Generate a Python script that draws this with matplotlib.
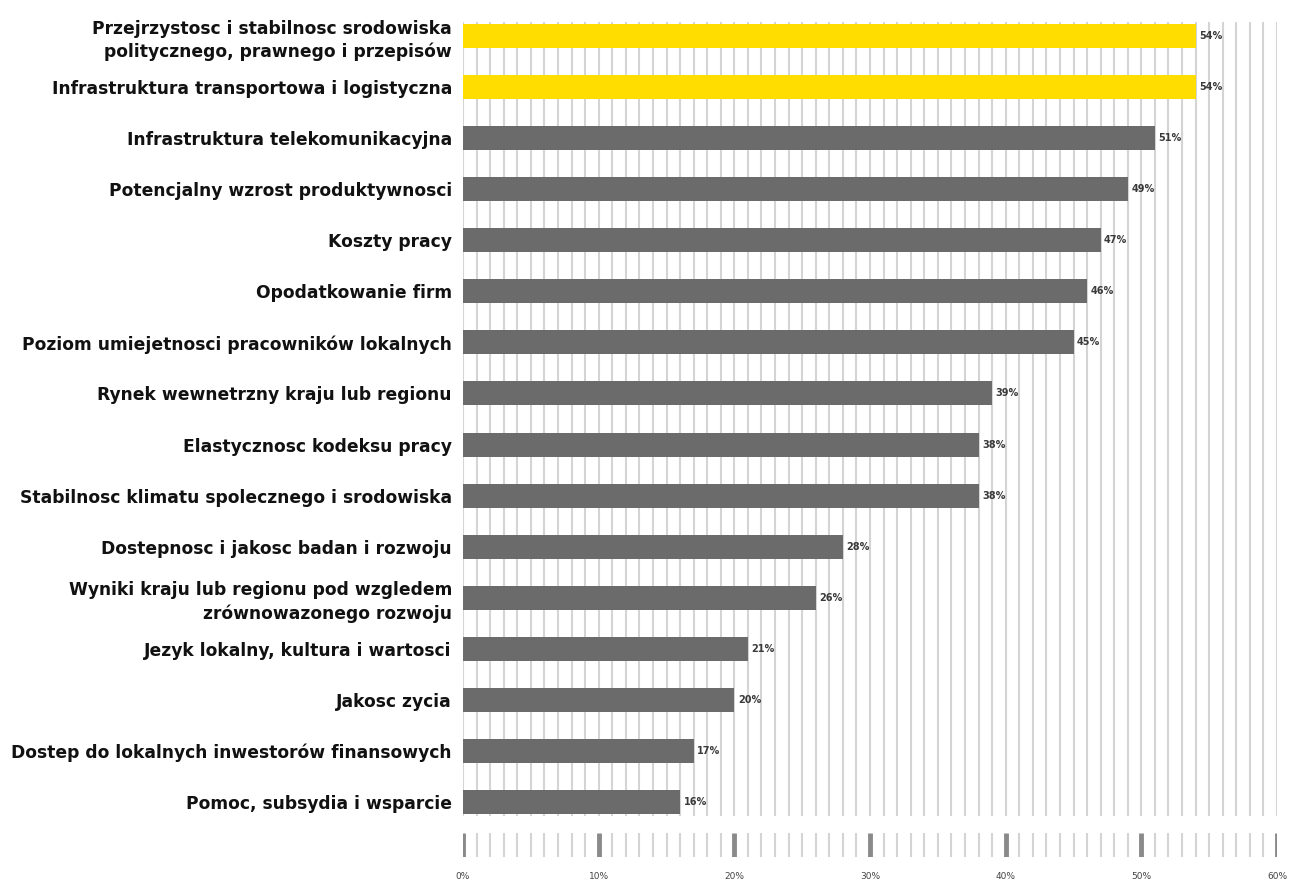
import matplotlib
matplotlib.use("Agg")
import matplotlib.pyplot as plt

# Data (top to bottom)
categories = [
    "Przejrzystosc i stabilnosc srodowiska\npolitycznego, prawnego i przepisów",
    "Infrastruktura transportowa i logistyczna",
    "Infrastruktura telekomunikacyjna",
    "Potencjalny wzrost produktywnosci",
    "Koszty pracy",
    "Opodatkowanie firm",
    "Poziom umiejetnosci pracowników lokalnych",
    "Rynek wewnetrzny kraju lub regionu",
    "Elastycznosc kodeksu pracy",
    "Stabilnosc klimatu spolecznego i srodowiska",
    "Dostepnosc i jakosc badan i rozwoju",
    "Wyniki kraju lub regionu pod wzgledem\nzrównowazonego rozwoju",
    "Jezyk lokalny, kultura i wartosci",
    "Jakosc zycia",
    "Dostep do lokalnych inwestorów finansowych",
    "Pomoc, subsydia i wsparcie",
]
values = [54, 54, 51, 49, 47, 46, 45, 39, 38, 38, 28, 26, 21, 20, 17, 16]
highlighted = [True, True] + [False] * 14
tick_values = [0, 10, 20, 30, 40, 50, 60]

YELLOW = "#ffdd00"
GRAY = "#6b6b6b"
GRID = "#d4d4d4"

plt.rcParams['font.family'] = ['DejaVu Sans']

W, H = 1290, 883
fig = plt.figure(figsize=(W / 100, H / 100), dpi=100)

left, right = 463, 1277
top, bottom = 22, 816
ax = fig.add_axes([left / W, 1 - bottom / H, (right - left) / W, (bottom - top) / H])

y = list(range(len(categories)))
colors = [YELLOW if h else GRAY for h in highlighted]
ax.barh(y, values, height=0.47, color=colors, zorder=2)

# value labels
for yi, v in zip(y, values):
    ax.annotate(f"{v}%", (v, yi), xytext=(2.5, 0), textcoords="offset points",
                va="center", ha="left", fontsize=7, fontweight="bold", color="#3a3a3a")

ax.set_xlim(0, 60)
ax.set_ylim(len(categories) - 1 + 0.274, -0.274)
ax.set_xticks(range(0, 61))
ax.grid(axis="x", color=GRID, linewidth=1.5, zorder=0)
ax.set_axisbelow(True)
ax.tick_params(axis="x", length=0, labelbottom=False)
ax.set_yticks(y)
ax.set_yticklabels(categories, fontsize=12.3, fontweight="bold", color="#111111",
                   linespacing=1.36)
ax.tick_params(axis="y", length=0, pad=8)
for s in ax.spines.values():
    s.set_visible(False)

# bottom tick strip
ax2 = fig.add_axes([left / W, 1 - 857 / H, (right - left) / W, (857 - 833) / H])
ax2.set_xlim(0, 60)
ax2.set_ylim(0, 1)
minor = [i for i in range(61) if i % 10 != 0]
ax2.vlines(minor, 0, 1, colors=GRID, linewidth=1.5)
ax2.vlines(tick_values, 0, 1, colors="#8a8a8a", linewidth=3.5)
ax2.set_xticks(tick_values)
ax2.set_xticklabels([f"{t}%" for t in tick_values], fontsize=6.5, color="#444444")
ax2.tick_params(axis="x", length=0, pad=11)
ax2.set_yticks([])
for s in ax2.spines.values():
    s.set_visible(False)

fig.savefig("out.png", dpi=100)
